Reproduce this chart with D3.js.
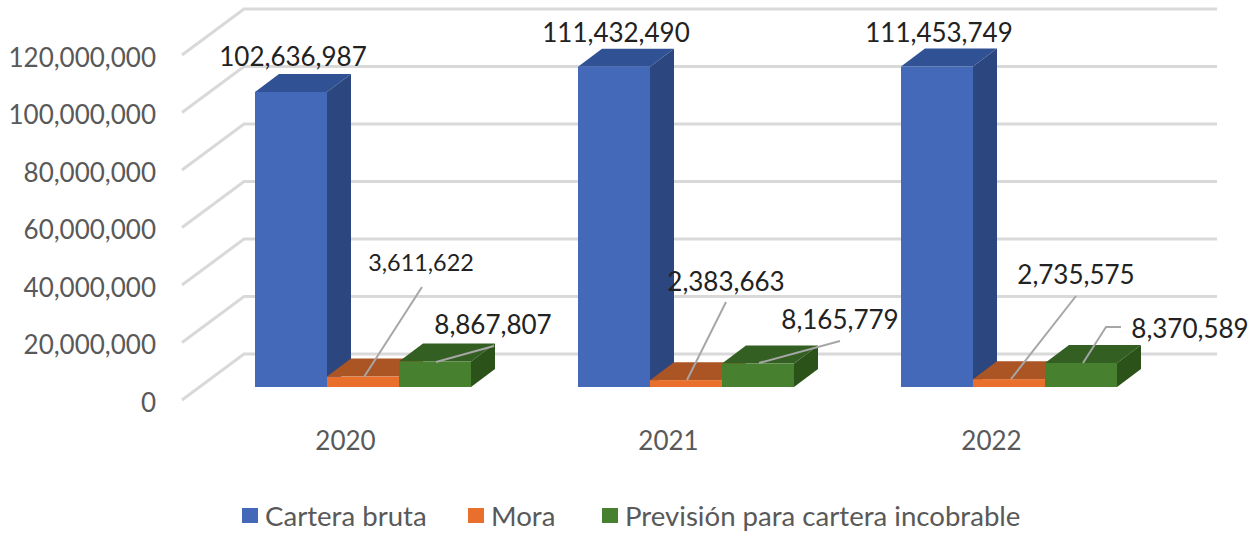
<!DOCTYPE html>
<html>
<head>
<meta charset="utf-8">
<script src="https://cdn.jsdelivr.net/npm/d3@7"></script>
<style>
  html, body { margin: 0; padding: 0; background: #fff; }
  svg { display: block; font-family: Lato, "Open Sans", sans-serif; }
</style>
</head>
<body>
<script>
// data
var years = ['2020', '2021', '2022'];
var seriesNames = ['Cartera bruta', 'Mora', 'Previsión para cartera incobrable'];
var carteraBruta = [102636987, 111432490, 111453749];
var mora = [3611622, 2383663, 2735575];
var prevision = [8867807, 8165779, 8370589];
var yTicks = [0, 20000000, 40000000, 60000000, 80000000, 100000000, 120000000];

var seriesValues = [carteraBruta, mora, prevision];

var w = 1260, h = 533;

// colours per series: front, side, top
var colors = [
  {front: '#4469b8', side: '#2c4680', top: '#315195'},
  {front: '#e8702c', side: '#ab5424', top: '#ab5424'},
  {front: '#47802f', side: '#2b5219', top: '#335f22'}
];

var baseY = 387;          // front edge of the bars
var barDepth = {x: 24, y: -18};
var wallDepth = {x: 62, y: -46};
var floorFront = 13;      // axis plane sits this far below the bar base
var floorLeft = 182, floorRight = 1155;

var yScale = d3.scaleLinear()
    .domain([0, 120000000])
    .range([baseY, baseY - 345]);

var xScale = d3.scaleBand()
    .domain(years)
    .range([floorLeft, floorLeft + 969]);

// bars in a cluster touch each other
var clusterStart = 73, clusterWidth = 216;
var barScale = d3.scaleBand()
    .domain(d3.range(3))
    .range([clusterStart, clusterStart + clusterWidth]);

var svg = d3.select('body').append('svg')
    .attr('width', w)
    .attr('height', h);

// gridlines, left wall then back wall
svg.append('g')
  .selectAll('polyline')
  .data(yTicks)
  .enter()
  .append('polyline')
  .attr('fill', 'none')
  .attr('stroke', '#d9d9d9')
  .attr('stroke-width', 3)
  .attr('points', function (d) {
    var y = yScale(d) + floorFront;
    return [
      [floorLeft, y],
      [floorLeft + wallDepth.x, y + wallDepth.y],
      [floorRight + wallDepth.x, y + wallDepth.y]
    ].join(' ');
  });

var yAxis = d3.axisLeft(yScale)
    .tickValues(yTicks)
    .tickSize(0)
    .tickFormat(d3.format(','));

var yG = svg.append('g')
    .attr('transform', 'translate(159,' + (floorFront + 3) + ')')
    .call(yAxis);
yG.select('.domain').remove();
yG.selectAll('text')
    .attr('x', -3)
    .attr('fill', '#595959')
    .style('font-size', '26px')
    .style('font-family', 'Lato, sans-serif');

var xAxis = d3.axisBottom(xScale).tickSize(0);
var xG = svg.append('g')
    .attr('transform', 'translate(2,441)')
    .call(xAxis);
xG.select('.domain').remove();
xG.selectAll('text')
    .attr('y', 0)
    .attr('dy', '0.35em')
    .attr('fill', '#595959')
    .style('font-size', '26px')
    .style('font-family', 'Lato, sans-serif');

// one flat record per bar
var bars = [];
years.forEach(function (year, i) {
  seriesValues.forEach(function (values, s) {
    bars.push({year: year, yearIndex: i, series: s, value: values[i]});
  });
});

var barG = svg.append('g')
  .selectAll('g')
  .data(bars)
  .enter()
  .append('g')
  .attr('transform', function (d) {
    return 'translate(' + (xScale(d.year) + barScale(d.series)) + ',0)';
  });

var bw = barScale.bandwidth();

barG.append('polygon') // top
  .attr('fill', function (d) { return colors[d.series].top; })
  .attr('points', function (d) {
    var t = yScale(d.value);
    return [[0, t], [barDepth.x, t + barDepth.y], [bw + barDepth.x, t + barDepth.y], [bw, t]].join(' ');
  });

barG.append('polygon') // side
  .attr('fill', function (d) { return colors[d.series].side; })
  .attr('points', function (d) {
    var t = yScale(d.value);
    return [[bw, t], [bw + barDepth.x, t + barDepth.y], [bw + barDepth.x, baseY + barDepth.y], [bw, baseY]].join(' ');
  });

barG.append('rect') // front
  .attr('width', bw)
  .attr('y', function (d) { return yScale(d.value); })
  .attr('height', function (d) { return baseY - yScale(d.value); })
  .attr('fill', function (d) { return colors[d.series].front; });

// data labels were dragged by hand in the original, so they have their own layout
var labelLayout = [
  {cx: 293, cy: 57, leader: null},
  {cx: 421, cy: 263, size: 23.4, leader: [[364, 377], [422, 287]]},
  {cx: 493, cy: 325, leader: [[436, 362], [494, 346]]},
  {cx: 616, cy: 33, leader: null},
  {cx: 726, cy: 282, leader: [[687, 380], [726, 302]]},
  {cx: 840, cy: 320, leader: [[759, 363], [840, 341]]},
  {cx: 939, cy: 33, leader: null},
  {cx: 1076, cy: 275, leader: [[1011, 379], [1076, 296]]},
  {cx: 1190, cy: 329, leader: [[1083, 363], [1106, 327], [1121, 327]]}
];

svg.append('g')
  .selectAll('polyline')
  .data(labelLayout.filter(function (d) { return d.leader; }))
  .enter()
  .append('polyline')
  .attr('fill', 'none')
  .attr('stroke', '#a6a6a6')
  .attr('stroke-width', 2)
  .attr('points', function (d) { return d.leader.join(' '); });

svg.append('g')
  .selectAll('text')
  .data(bars)
  .enter()
  .append('text')
  .attr('x', function (d, i) { return labelLayout[i].cx; })
  .attr('y', function (d, i) { return labelLayout[i].cy; })
  .attr('dy', '0.35em')
  .attr('text-anchor', 'middle')
  .attr('fill', '#222')
  .style('font-size', function (d, i) { return (labelLayout[i].size || 26) + 'px'; })
  .text(function (d) { return d3.format(',')(d.value); });

// legend
var legendX = [242, 468, 602];
var legend = svg.append('g')
  .selectAll('g')
  .data(seriesNames)
  .enter()
  .append('g')
  .attr('transform', function (d, i) { return 'translate(' + legendX[i] + ',508)'; });

legend.append('rect')
  .attr('width', 16)
  .attr('height', 15)
  .attr('fill', function (d, i) { return colors[i].front; });

legend.append('text')
  .attr('x', 23)
  .attr('y', 8)
  .attr('dy', '0.35em')
  .attr('fill', '#595959')
  .style('font-size', '27.6px')
  .text(function (d) { return d; });
</script>
</body>
</html>
